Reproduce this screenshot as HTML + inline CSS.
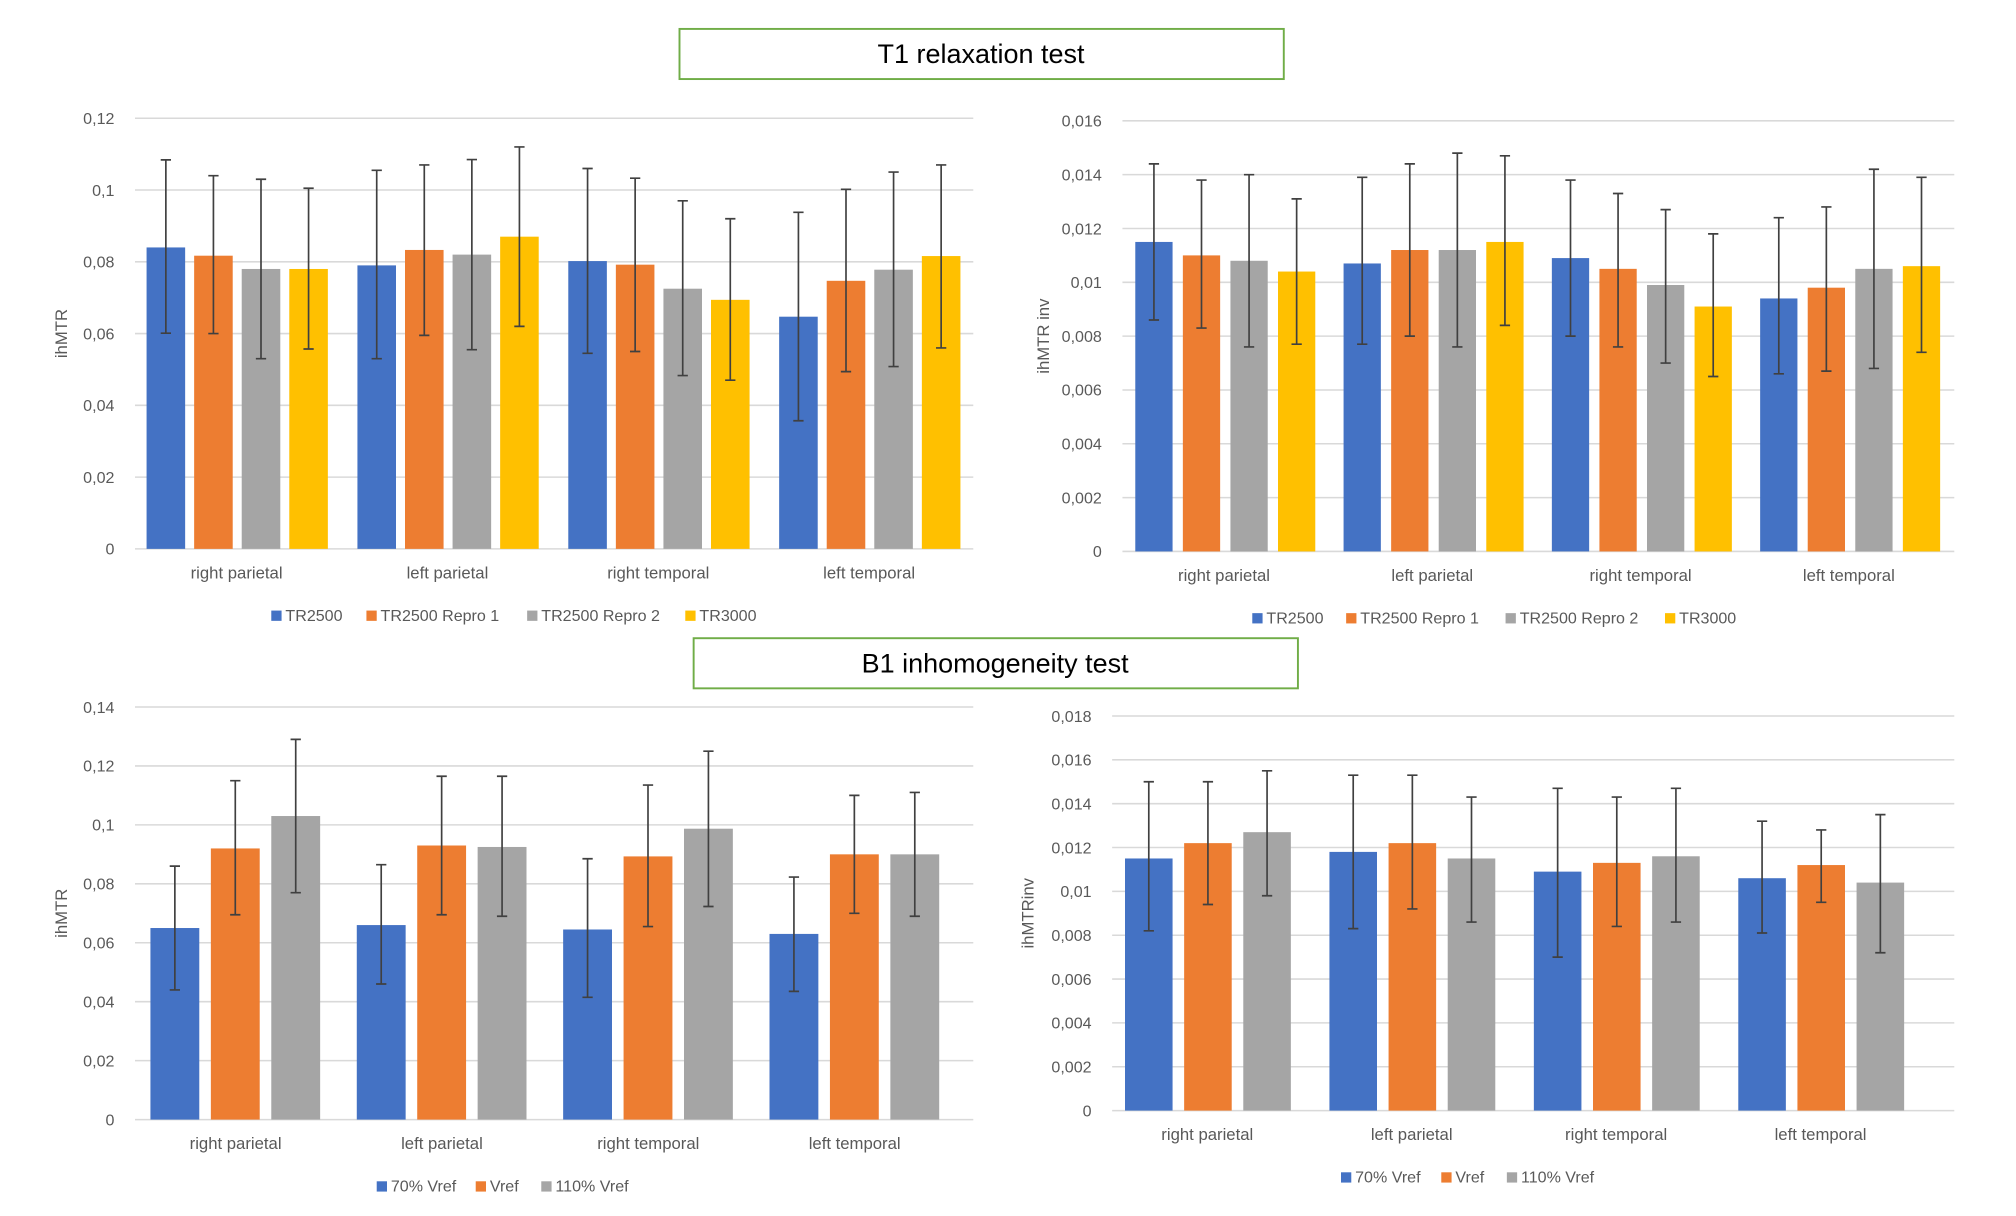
<!DOCTYPE html>
<html><head><meta charset="utf-8"><style>
html,body{margin:0;padding:0;background:#fff;}
svg{display:block;font-family:"Liberation Sans",sans-serif;}
</style></head><body>
<svg id="root" width="2016" height="1216" viewBox="0 0 1568 946" preserveAspectRatio="none" xmlns="http://www.w3.org/2000/svg">
<rect x="528.5" y="22.5" width="470" height="39" fill="#fff" stroke="#70ad47" stroke-width="1.5"/>
<text x="763" y="49" text-anchor="middle" font-size="21" fill="#000">T1 relaxation test</text>
<rect x="539.5" y="496.5" width="470" height="39" fill="#fff" stroke="#70ad47" stroke-width="1.5"/>
<text x="774" y="523" text-anchor="middle" font-size="21" fill="#000">B1 inhomogeneity test</text>
</svg>
<script>
const categories = ["right parietal","left parietal","right temporal","left temporal"];
// Chart 1: ihMTR, T1 test
const c1Series = ["TR2500","TR2500 Repro 1","TR2500 Repro 2","TR3000"];
const c1Values = [[0.084,0.0817,0.078,0.078],[0.079,0.0833,0.082,0.087],[0.0802,0.0792,0.0725,0.0694],[0.0647,0.0747,0.0778,0.0816]];
const c1High = [[0.1084,0.104,0.103,0.1005],[0.1055,0.107,0.1085,0.112],[0.106,0.1033,0.097,0.092],[0.0938,0.1002,0.105,0.107]];
const c1Low = [[0.0601,0.060,0.053,0.0557],[0.053,0.0595,0.0555,0.062],[0.0545,0.055,0.0483,0.047],[0.0357,0.0494,0.0508,0.056]];
const c1Ticks = ["0","0,02","0,04","0,06","0,08","0,1","0,12"];
// Chart 2: ihMTR inv, T1 test
const c2Values = [[0.0115,0.0110,0.0108,0.0104],[0.0107,0.0112,0.0112,0.0115],[0.0109,0.0105,0.0099,0.0091],[0.0094,0.0098,0.0105,0.0106]];
const c2High = [[0.0144,0.0138,0.0140,0.0131],[0.0139,0.0144,0.0148,0.0147],[0.0138,0.0133,0.0127,0.0118],[0.0124,0.0128,0.0142,0.0139]];
const c2Low = [[0.0086,0.0083,0.0076,0.0077],[0.0077,0.0080,0.0076,0.0084],[0.0080,0.0076,0.0070,0.0065],[0.0066,0.0067,0.0068,0.0074]];
const c2Ticks = ["0","0,002","0,004","0,006","0,008","0,01","0,012","0,014","0,016"];
// Chart 3: ihMTR, B1 test
const b1Series = ["70% Vref","Vref","110% Vref"];
const c3Values = [[0.065,0.092,0.103],[0.066,0.093,0.0925],[0.0645,0.0893,0.0987],[0.063,0.090,0.090]];
const c3High = [[0.086,0.115,0.129],[0.0865,0.1165,0.1165],[0.0885,0.1135,0.125],[0.0823,0.110,0.111]];
const c3Low = [[0.044,0.0695,0.077],[0.046,0.0695,0.069],[0.0415,0.0655,0.0723],[0.0435,0.070,0.069]];
const c3Ticks = ["0","0,02","0,04","0,06","0,08","0,1","0,12","0,14"];
// Chart 4: ihMTRinv, B1 test
const c4Values = [[0.0115,0.0122,0.0127],[0.0118,0.0122,0.0115],[0.0109,0.0113,0.0116],[0.0106,0.0112,0.0104]];
const c4High = [[0.0150,0.0150,0.0155],[0.0153,0.0153,0.0143],[0.0147,0.0143,0.0147],[0.0132,0.0128,0.0135]];
const c4Low = [[0.0082,0.0094,0.0098],[0.0083,0.0092,0.0086],[0.0070,0.0084,0.0086],[0.0081,0.0095,0.0072]];
const c4Ticks = ["0","0,002","0,004","0,006","0,008","0,01","0,012","0,014","0,016","0,018"];

const colors = ["#4472c4","#ed7d31","#a5a5a5","#ffc000"];
const NS = "http://www.w3.org/2000/svg";
const root = document.getElementById("root");
function mk(tag, attrs, parent){const e=document.createElementNS(NS,tag);for(const k in attrs)e.setAttribute(k,attrs[k]);(parent||root).appendChild(e);return e;}

function drawChart(cfg, values, high, low, ticks, series){
  const g = mk("g",{});
  
  
  const maxV = cfg.step*(ticks.length-1);
  const y = v => cfg.y0 - (v/maxV)*(cfg.y0-cfg.yTop);
  const groupW = cfg.gw;
  const xBar = (ci,si) => cfg.gx0 + groupW*ci + cfg.pad + si*(cfg.bw+cfg.gap);
  ticks.forEach((t,i)=>{
    const yy = y(i*cfg.step);
    const gl = mk("line",{x1:cfg.x0,x2:cfg.x1,y1:yy,y2:yy,stroke:"#d9d9d9","stroke-width":1.2},g);
    
    
    const tl = mk("text",{x:cfg.x0-16,y:yy+4.5,"text-anchor":"end","font-size":12.5,fill:"#595959"},g);
    tl.textContent = t;
    
    
  });
  values.forEach((row,ci)=>{
    row.forEach((v,si)=>{
      const bx = xBar(ci,si);
      const r = mk("rect",{x:bx,y:y(v),width:cfg.bw,height:cfg.y0-y(v),fill:colors[si]},g);
      
      
      const cx = bx+cfg.bw/2, yh=y(high[ci][si]), yl=y(low[ci][si]);
      const eb = mk("path",{d:`M${cx},${yh}V${yl}M${cx-4},${yh}H${cx+4}M${cx-4},${yl}H${cx+4}`,stroke:"#404040","stroke-width":1.3,fill:"none"},g);
      
      
    });
    const cl = mk("text",{x:cfg.gx0+groupW*(ci+0.5),y:cfg.y0+23,"text-anchor":"middle","font-size":13,fill:"#595959"},g);
    cl.textContent = categories[ci];
    
    
  });
  const at = mk("text",{x:0,y:0,"text-anchor":"middle","font-size":13,fill:"#595959",transform:`translate(${cfg.titleX},${(cfg.y0+cfg.yTop)/2}) rotate(-90)`},g);
  at.textContent = cfg.title;
  
  
  series.forEach((s,si)=>{
    const lx = cfg.legX[si];
    const sq = mk("rect",{x:lx,y:cfg.legY-8,width:8,height:8,fill:colors[si]},g);
    
    
    const lt = mk("text",{x:lx+11,y:cfg.legY,"font-size":12.5,fill:"#595959"},g);
    lt.textContent = s;
    
    
  });
}
drawChart({name:"chart-t1-ihmtr",x0:105,x1:757,gx0:102,gw:164,y0:427,yTop:92,step:0.02,pad:12,bw:30,gap:7,title:"ihMTR",titleX:52,legX:[211,285,410,533],legY:483},c1Values,c1High,c1Low,c1Ticks,c1Series);
drawChart({name:"chart-t1-ihmtr-inv",x0:873,x1:1520,gx0:871,gw:162,y0:429,yTop:94,step:0.002,pad:12,bw:29,gap:8,title:"ihMTR inv",titleX:816,legX:[974,1047,1171,1295],legY:485},c2Values,c2High,c2Low,c2Ticks,c1Series);
drawChart({name:"chart-b1-ihmtr",x0:105,x1:757,gx0:103,gw:160.5,y0:871,yTop:550,step:0.02,pad:14,bw:38,gap:9,title:"ihMTR",titleX:52,legX:[293,370,421],legY:927},c3Values,c3High,c3Low,c3Ticks,b1Series);
drawChart({name:"chart-b1-ihmtrinv",x0:865,x1:1520,gx0:859.5,gw:159,y0:864,yTop:557,step:0.002,pad:15.5,bw:37,gap:9,title:"ihMTRinv",titleX:804,legX:[1043,1121,1172],legY:920},c4Values,c4High,c4Low,c4Ticks,b1Series);
</script>
</body></html>
